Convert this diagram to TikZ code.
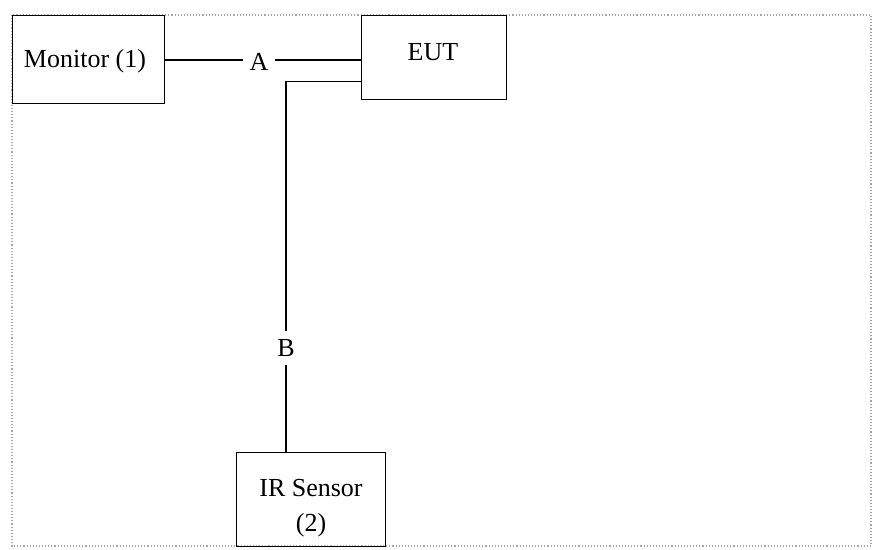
\documentclass[tikz,border=0pt]{standalone}
\usepackage{fontspec}
\setmainfont{Liberation Serif}
\begin{document}
\begin{tikzpicture}[x=1pt,y=-1pt,
  box/.style={draw=black, line width=1.4pt, anchor=north west, inner sep=0pt},
  lbl/.style={inner sep=0pt, font=\fontsize{26}{29}\selectfont},
  wire/.style={draw=black, line width=1.4pt},
  frame/.style={draw=gray!70, line width=1.1pt, dotted}]
\useasboundingbox (0,0) rectangle (873,549);
\draw[frame] (12,15) rectangle (871,546);
\node[box, minimum width=152pt, minimum height=88pt] (mon) at (12,15) {};
\node[lbl] (montxt) at (85,61) {Monitor (1)};
\node[box, minimum width=145pt, minimum height=84pt] (eut) at (361,15) {};
\node[lbl] (euttxt) at (433,52) {EUT};
\node[box, minimum width=149pt, minimum height=94pt] (ir) at (236,452) {};
\node[lbl] (irtxt) at (311,488) {IR Sensor};
\node[lbl] (irnum) at (311,525) {(2)};
\node[lbl, inner xsep=6pt] (A) at (259,62) {A};
\node[lbl, inner ysep=8pt] (B) at (286,348) {B};
\coordinate (e2) at ([yshift=-24pt]eut.west);
\draw[wire] (mon.east |- 0,60) -- (A.west |- 0,60);
\draw[wire] (A.east |- 0,60) -- (eut.west |- 0,60);
\draw[wire] (e2) -| (B.north);
\draw[wire] (B.south) -- (B.south |- ir.north);
\end{tikzpicture}
\end{document}
